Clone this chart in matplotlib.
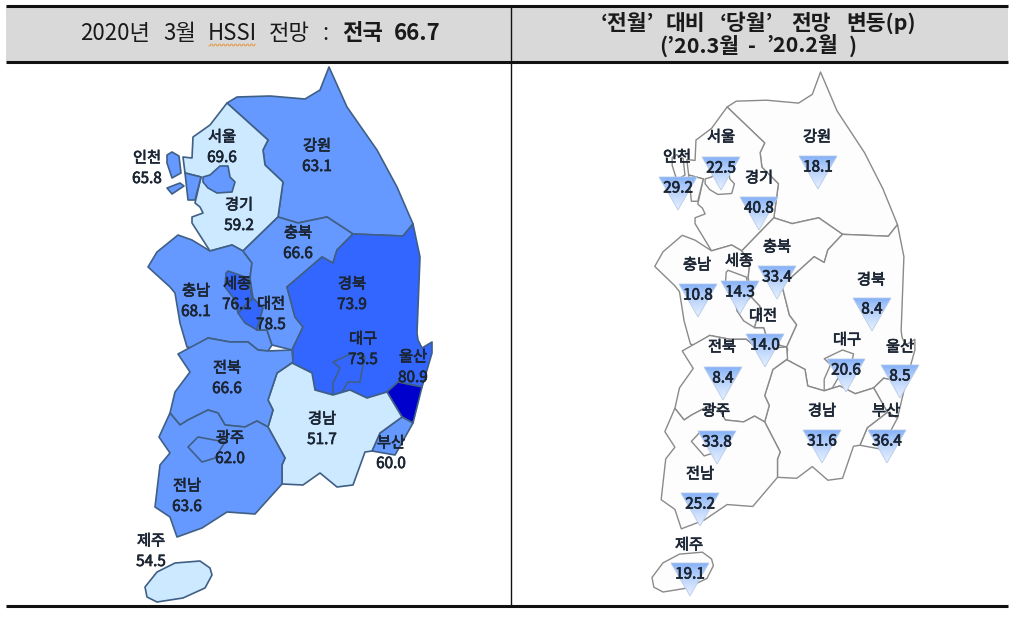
import numpy as np
import matplotlib
matplotlib.use("Agg")
import matplotlib.pyplot as plt
from matplotlib.patches import Polygon
from matplotlib.transforms import Affine2D
import matplotlib.patheffects as pe

plt.rcParams['font.family'] = ['Noto Sans CJK KR', 'DejaVu Sans']

regions = ['강원','경기','서울','인천','충남','세종','대전','충북','경북','대구','울산','부산','경남','전북','전남','광주','제주']
hssi    = [63.1,59.2,69.6,65.8,68.1,76.1,78.5,66.6,73.9,73.5,80.9,60.0,51.7,66.6,63.6,62.0,54.5]
change  = [18.1,40.8,22.5,29.2,10.8,14.3,14.0,33.4,8.4,20.6,8.5,36.4,31.6,8.4,25.2,33.8,19.1]
fills   = {'강원':'#6699ff','경기':'#cce9ff','서울':'#6699ff','인천':'#6699ff','충남':'#6699ff','세종':'#3366ff',
           '대전':'#3366ff','충북':'#6699ff','경북':'#3366ff','대구':'#3366ff','울산':'#0000cc','부산':'#6699ff',
           '경남':'#cce9ff','전북':'#6699ff','전남':'#6699ff','광주':'#6699ff','제주':'#cce9ff'}

outlines = {
 '강원':[[(227,103),(237,97),(270,96),(305,99),(320,90),(329,67),(347,107),(377,150),(397,187),(413,224),(403,236),(353,234),(327,217),(298,223),(278,217),(283,182),(265,165),(263,150),(268,140)]],
 '경기':[[(227,103),(268,140),(263,150),(265,165),(283,182),(278,217),(243,251),(232,245),(210,251),(192,223),(192,217),(203,213),(200,207),(195,203),(201,177),(185,173),(183,157),(192,158),(193,137),(210,125)]],
 '서울':[[(203,177),(210,175),(220,166),(228,166),(230,177),(235,182),(232,192),(217,193),(208,188),(203,182)]],
 '인천':[[(167,155),(172,152),(179,156),(181,173),(172,178),(167,163)],
         [(167,188),(180,183),(184,186),(172,194)],
         [(185,173),(201,177),(195,200),(188,200)]],
 '충남':[[(148,267),(157,252),(178,235),(192,240),(210,251),(232,245),(243,251),(252,263),(250,278),(253,298),(263,308),(257,330),(267,330),(272,345),(268,351),(258,350),(248,342),(230,342),(208,338),(192,348),(187,347),(180,323),(175,293),(170,287)]],
 '세종':[[(226,273),(228,271),(248,278),(252,298),(238,313),(235,300),(225,287)]],
 '대전':[[(238,313),(253,298),(263,308),(257,330),(245,323)]],
 '충북':[[(243,251),(278,217),(298,223),(327,217),(353,234),(337,250),(333,263),(322,257),(287,287),(295,317),(303,327),(292,350),(272,345),(267,330),(257,330),(263,308),(253,298),(250,278),(252,263)]],
 '경북':[[(353,234),(403,236),(413,224),(420,257),(417,333),(418,340),(422,348),(432,342),(432,353),(422,387),(398,382),(387,392),(367,398),(350,390),(333,395),(315,390),(312,373),(292,363),(293,352),(292,350),(303,327),(295,317),(287,287),(322,257),(333,263),(337,250)]],
 '대구':[[(333,395),(333,383),(340,368),(333,362),(353,353),(365,357),(362,370),(360,382),(348,382),(342,392)]],
 '울산':[[(398,382),(422,387),(413,423),(402,417),(387,392)]],
 '부산':[[(402,417),(413,423),(395,455),(372,451),(380,433)]],
 '경남':[[(292,363),(312,373),(315,390),(333,395),(350,390),(367,398),(387,392),(402,417),(380,433),(372,451),(365,452),(353,485),(337,487),(320,473),(303,485),(282,484),(282,465),(285,458),(268,427),(273,410),(268,400),(277,373)]],
 '전북':[[(178,354),(208,338),(230,342),(248,342),(258,350),(268,351),(292,350),(293,362),(277,373),(268,400),(273,410),(268,427),(257,421),(245,427),(225,425),(218,413),(208,410),(188,420),(180,425),(170,413),(175,392),(190,372)]],
 '전남':[[(170,413),(180,425),(188,420),(208,410),(218,413),(225,425),(245,427),(257,421),(268,427),(285,458),(282,465),(282,484),(255,514),(227,512),(202,528),(177,537),(170,517),(155,507),(160,465),(170,453),(159,437)]],
 '광주':[[(188,447),(198,437),(225,442),(215,458),(202,462)]],
 '제주':[[(145,587),(157,572),(175,563),(200,561),(210,568),(212,575),(205,588),(183,598),(157,602),(147,597)]],
}

left_name_xy = {'강원':(317,146),'경기':(239,205),'서울':(222,137),'인천':(147,158),'충남':(196,291),'세종':(237,284),'대전':(271,304),
                '충북':(298,233),'경북':(352,284),'대구':(363,339),'울산':(413,357),'부산':(391,443),'경남':(322,419),'전북':(227,368),
                '전남':(187,486),'광주':(230,438),'제주':(151,541)}
right_name_xy = {'강원':(817,137),'경기':(759,178),'서울':(721,137),'인천':(677,157),'충남':(697,265),'세종':(739,261),'대전':(763,316),
                 '충북':(777,247),'경북':(871,280),'대구':(847,340),'울산':(900,347),'부산':(886,411),'경남':(822,411),'전북':(722,347),
                 '전남':(700,474),'광주':(716,411),'제주':(689,545)}
tri_xy = {'강원':(818,156),'경기':(759,197),'서울':(721,157),'인천':(678,177),'충남':(698,284),'세종':(740,281),'대전':(765,334),
          '충북':(777,266),'경북':(872,298),'대구':(846,359),'울산':(900,365),'부산':(887,430),'경남':(822,430),'전북':(723,367),
          '전남':(700,493),'광주':(717,431),'제주':(690,563)}

# header words, placed one by one: (text, centre x, centre y, bold)
title_words = [('2020년',115.5,33,False),('3월',179.5,33,False),('HSSI',232,33,False),('전망',289,33,False),(':',325,33,False),
               ('전국',362.5,33,True),('66.7',417,33,True),
               ('‘전월’',627.5,23,True),('대비',685.5,23,True),('‘당월’',746.5,23,True),('전망',811,23,True),('변동(p)',881,23,True),
               ('(’20.3월',699.5,46,True),('-',752,46,True),('’20.2월',802,46,True),(')',853,46,True)]

fig = plt.figure(figsize=(10.2, 6.21), dpi=100, facecolor='white')
ax = fig.add_axes([0, 0, 1, 1])
ax.set_xlim(0, 1020); ax.set_ylim(621, 0); ax.axis('off')
TXT = '#1b2533'
heavy = [pe.withStroke(linewidth=0.5, foreground=TXT)]

# header + rules
ax.fill_between([6, 1008], 6, 61, color='#d9d9d9', lw=0, zorder=0)
ax.plot([6, 1008], [5.5, 5.5], color='#111111', lw=2.2, zorder=1, solid_capstyle='butt')
ax.plot([6, 1008], [61.5, 61.5], color='#111111', lw=2.2, zorder=1, solid_capstyle='butt')
ax.plot([6, 1008], [606, 606], color='#111111', lw=2.2, zorder=1, solid_capstyle='butt')
ax.plot([511, 511], [6, 606], color='#111111', lw=1.0, zorder=1)

for word, x, y, bold in title_words:
    ax.text(x, y, word, fontsize=16 if y == 33 else 15.5, color='#1a1a1a', va='center', ha='center',
            weight='bold' if bold else 'normal')
wx = np.arange(209, 255.5, 1.0)
ax.plot(wx, 45 + np.where(np.arange(wx.size) % 4 < 2, 0.8, -0.8), color='#e0a050', lw=0.8, zorder=3)

# left map
for name in regions:
    for pts in outlines[name]:
        ax.add_patch(Polygon(pts, closed=True, facecolor=fills[name], edgecolor='#3f5f85', lw=1.2, joinstyle='round', zorder=2))

# right map: same outlines, narrower scale
to_right = Affine2D().translate(-145, -67).scale(0.916, 0.972).translate(652, 72) + ax.transData
for name in regions:
    for pts in outlines[name]:
        ax.add_patch(Polygon(pts, closed=True, facecolor='#fdfdfd', edgecolor='#8a8a8a', lw=1.0, joinstyle='round', zorder=2, transform=to_right))

# labels
for name, v in zip(regions, hssi):
    x, y = left_name_xy[name]
    ax.text(x, y, name, fontsize=11, color=TXT, ha='center', va='center', zorder=5, path_effects=heavy)
    ax.text(x, y + 20.5, f'{v:.1f}', fontsize=11, color=TXT, ha='center', va='center', zorder=5, path_effects=heavy)

c_top, c_bot = np.array([0.50, 0.68, 0.97]), np.array([0.90, 0.94, 1.0])
t = np.linspace(0, 1, 64)[:, None, None] ** 0.7
grad_img = c_top[None, None, :] * (1 - t) + c_bot[None, None, :] * t

TW, TH = 38, 33
for name, v in zip(regions, change):
    x, y = tri_xy[name]
    tri = Polygon([(x - TW/2, y), (x + TW/2, y), (x, y + TH)], closed=True, facecolor='none',
                  edgecolor='#b9cbe8', lw=0.6, zorder=4)
    ax.add_patch(tri)
    im = ax.imshow(grad_img, extent=(x - TW/2, x + TW/2, y + TH, y), aspect='auto', zorder=3.5)
    im.set_clip_path(tri)
    nx, ny = right_name_xy[name]
    ax.text(nx, ny, name, fontsize=11, color=TXT, ha='center', va='center', zorder=5, path_effects=heavy)
    ax.text(x, y + 11, f'{v:.1f}', fontsize=11, color=TXT, ha='center', va='center', zorder=5, path_effects=heavy)

ax.set_xlim(0, 1020); ax.set_ylim(621, 0)
fig.savefig('out.png', dpi=100, facecolor='white')
